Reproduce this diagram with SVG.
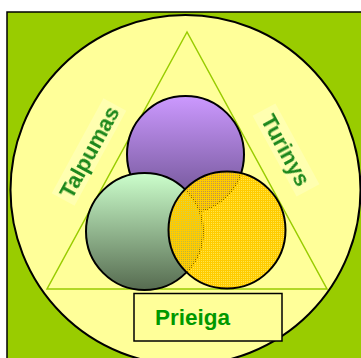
<svg xmlns="http://www.w3.org/2000/svg" width="361" height="358" viewBox="0 0 361 358">
<defs>
<linearGradient id="gPurple" x1="0" y1="0" x2="0" y2="1">
<stop offset="0" stop-color="#cc99ff"/>
<stop offset="1" stop-color="#664d8a"/>
</linearGradient>
<linearGradient id="gGreen" x1="0" y1="0" x2="0" y2="1">
<stop offset="0" stop-color="#ccffcc"/>
<stop offset="1" stop-color="#566b50"/>
</linearGradient>
<pattern id="pYellow" x="0" y="0" width="2" height="2" patternUnits="userSpaceOnUse">
<rect x="0" y="0" width="2" height="1" fill="#ffcc00"/>
<rect x="0" y="1" width="1" height="1" fill="#ffcc00"/>
<rect x="1" y="1" width="1" height="1" fill="#ffcc00" fill-opacity="0.5"/>
</pattern>
<filter id="soft" x="-10%" y="-30%" width="120%" height="160%">
<feGaussianBlur stdDeviation="0.5"/>
</filter>
</defs>
<style>
.ball{stroke:#000;stroke-width:2}
.side{font-family:"Liberation Sans",Arial,sans-serif;font-weight:bold;font-size:22px;fill:#1a861a;text-anchor:middle}
.label{font-family:"Liberation Sans",Arial,sans-serif;font-weight:bold;font-size:22.5px;fill:#009900}
</style>
<rect x="0" y="0" width="361" height="358" fill="#ffffff"/>
<rect id="frame" x="7" y="12" width="360" height="360" fill="#99cc00" stroke="#000" stroke-width="1.5"/>
<g id="bigcircle">
<circle cx="185.5" cy="190" r="175" fill="#ffff99" stroke="#000" stroke-width="2"/>
</g>
<g id="connectors">
<polygon points="187,32 47,289 327,289" fill="none" stroke="#99cc00" stroke-width="1.5"/>
</g>
<g id="talpumas">
<rect x="-54" y="-13" width="108" height="26" fill="#ffffcc" opacity="0.45" transform="translate(89,152) rotate(-61.4)"/>
<text class="side" filter="url(#soft)" transform="translate(89,152) rotate(-61.4)" x="0" y="8">Talpumas</text>
</g>
<g id="turinys">
<rect x="-46" y="-13" width="92" height="26" fill="#ffffcc" opacity="0.45" transform="translate(286,150) rotate(61.4)"/>
<text class="side" filter="url(#soft)" transform="translate(286,150) rotate(61.4)" x="0" y="8">Turinys</text>
</g>
<g id="purple">
<circle class="ball" cx="185.5" cy="154.5" r="58.5" fill="url(#gPurple)"/>
</g>
<g id="green">
<circle class="ball" cx="144.5" cy="231.5" r="58.5" fill="url(#gGreen)"/>
</g>
<g id="yellow">
<circle class="ball" cx="227" cy="230" r="58.5" fill="url(#pYellow)"/>
</g>
<g id="prieiga">
<rect x="134" y="293.5" width="148" height="47.5" fill="#ffff99" stroke="#000" stroke-width="1.5"/>
<text class="label" x="155" y="325">Prieiga</text>
</g>
</svg>
